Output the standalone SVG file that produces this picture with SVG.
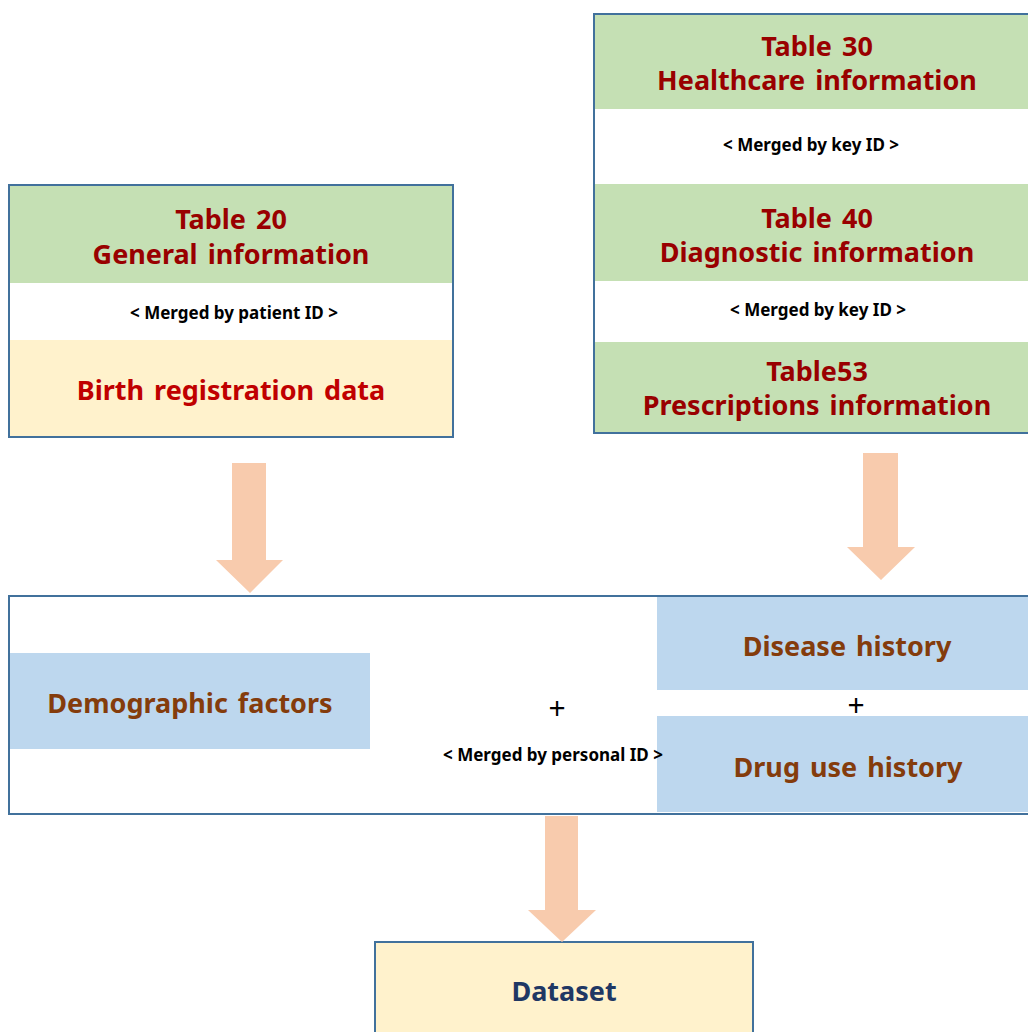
<svg xmlns="http://www.w3.org/2000/svg" width="1028" height="1032" viewBox="0 0 1028 1032">
<style>
text{font-family:"Noto Sans","Open Sans","Liberation Sans",sans-serif;font-weight:bold;text-anchor:middle;dominant-baseline:central}
.t{font-size:27px;fill:#990000;word-spacing:3px}
.r{font-size:27px;fill:#C00000;word-spacing:3px}
.m{font-size:17px;fill:#000}
.b{font-size:27px;fill:#843C0C;word-spacing:3px}
.p{font-size:30px;fill:#000;font-weight:normal}
.frame{fill:none;stroke:#41719C;stroke-width:2}
.arrow{fill:#F8CBAD}
</style>
<rect width="1028" height="1032" fill="#fff"/>
<g id="right-tables">
<rect x="594" y="14" width="436" height="95" fill="#C5E0B4"/>
<rect x="594" y="184" width="436" height="97" fill="#C5E0B4"/>
<rect x="594" y="342" width="436" height="91" fill="#C5E0B4"/>
<text class="t" x="817" y="45">Table 30</text>
<text class="t" x="817" y="79">Healthcare information</text>
<text class="m" x="811" y="144">&lt; Merged by key ID &gt;</text>
<text class="t" x="817" y="217">Table 40</text>
<text class="t" x="817" y="251">Diagnostic information</text>
<text class="m" x="818" y="309">&lt; Merged by key ID &gt;</text>
<text class="t" x="817" y="370">Table53</text>
<text class="t" x="817" y="404">Prescriptions information</text>
<rect class="frame" x="594" y="14" width="440" height="419"/>
</g>
<g id="left-tables">
<rect x="9" y="185" width="444" height="98" fill="#C5E0B4"/>
<rect x="9" y="340" width="444" height="97" fill="#FFF2CC"/>
<text class="t" x="231" y="218">Table 20</text>
<text class="t" x="231" y="253">General information</text>
<text class="m" x="234" y="312">&lt; Merged by patient ID &gt;</text>
<text class="r" x="231" y="389">Birth registration data</text>
<rect class="frame" x="9" y="185" width="444" height="252"/>
</g>
<g id="merged">
<rect x="9" y="653" width="361" height="96" fill="#BDD7EE"/>
<rect x="657" y="596" width="373" height="94" fill="#BDD7EE"/>
<rect x="657" y="716" width="373" height="96" fill="#BDD7EE"/>
<text class="b" x="190" y="702">Demographic factors</text>
<text class="b" x="847" y="645">Disease history</text>
<text class="b" x="848" y="766">Drug use history</text>
<text class="p" x="557" y="707">+</text>
<text class="p" x="856" y="704">+</text>
<text class="m" x="553" y="754">&lt; Merged by personal ID &gt;</text>
<rect class="frame" x="9" y="596" width="1025" height="218"/>
</g>
<g id="dataset">
<rect x="375" y="942" width="378" height="100" fill="#FFF2CC" stroke="#41719C" stroke-width="2"/>
<text x="564" y="990" style="font-size:27px;fill:#1F3864">Dataset</text>
</g>
<g id="connectors">
<polygon class="arrow" points="232,463 266,463 266,560 283,560 250,593 216,560 232,560"/>
<polygon class="arrow" points="863,453 898,453 898,547 915,547 881,580 847,547 863,547"/>
<polygon class="arrow" points="545,816 578,816 578,910 596,910 562,942 528,910 545,910"/>
</g>
</svg>
